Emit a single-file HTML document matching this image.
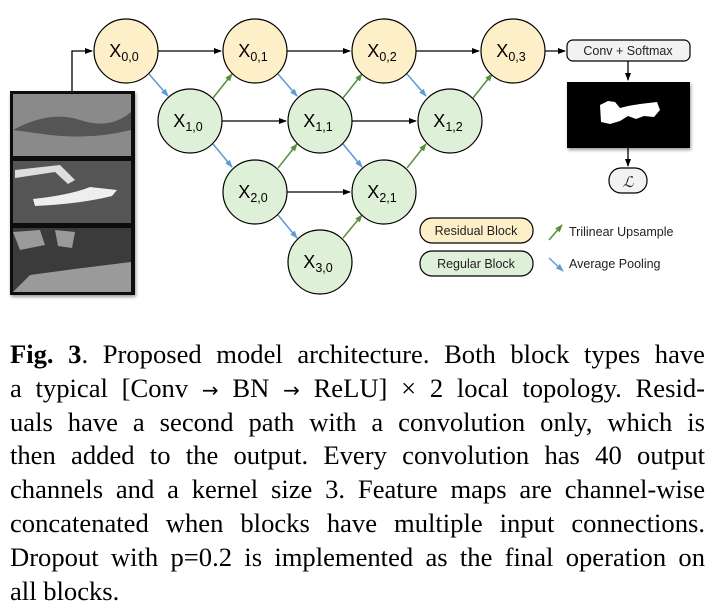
<!DOCTYPE html>
<html><head><style>
body{margin:0;width:725px;height:612px;background:#fff;overflow:hidden;position:relative}
.cap{position:absolute;left:10px;top:338px;width:695px;font-family:"Liberation Serif",serif;font-size:26.6px;line-height:33.8px;color:#000}
.cap div{text-align:justify;text-align-last:justify;white-space:nowrap;height:33.8px}
.cap div.l{text-align-last:left}
.ar{font-family:"DejaVu Sans",sans-serif;font-size:20px}
</style></head><body>
<svg width="725" height="330" style="position:absolute;left:0;top:0" font-family="Liberation Sans, sans-serif">
<defs>
<marker id="k" markerWidth="8" markerHeight="8" refX="7" refY="4" orient="auto" markerUnits="userSpaceOnUse"><path d="M0,1 L8,4 L0,7z" fill="#000"/></marker>
<marker id="g" markerWidth="8" markerHeight="8" refX="7" refY="4" orient="auto" markerUnits="userSpaceOnUse"><path d="M0,1 L8,4 L0,7z" fill="#5a8f3c"/></marker>
<marker id="b" markerWidth="8" markerHeight="8" refX="7" refY="4" orient="auto" markerUnits="userSpaceOnUse"><path d="M0,1 L8,4 L0,7z" fill="#5b9bd5"/></marker>
<filter id="sh"><feDropShadow dx="1" dy="2" stdDeviation="1.5" flood-opacity="0.4"/></filter>
</defs>
<g stroke="#000" stroke-width="1.3" fill="none" marker-end="url(#k)">
<path d="M72,91 V51 H92"/>
<path d="M158,51 H221"/><path d="M287,51 H350"/><path d="M416,51 H479"/><path d="M545,51 H565"/>
<path d="M222,121 H286"/><path d="M352,121 H416"/>
<path d="M287,192 H350"/>
<path d="M628,61 V80"/><path d="M628,148 V166"/>
</g>
<g stroke="#5b9bd5" stroke-width="1.5" marker-end="url(#b)">
<path d="M149,74 L168,96"/><path d="M278,74 L297,96"/><path d="M407,74 L426,96"/>
<path d="M213,144 L232,167"/><path d="M343,144 L362,167"/>
<path d="M278,215 L297,238"/>
<path d="M549,258 L563,271"/>
</g>
<g stroke="#5a8f3c" stroke-width="1.5" marker-end="url(#g)">
<path d="M213,98 L232,74"/><path d="M343,98 L362,74"/><path d="M473,98 L492,74"/>
<path d="M278,168 L297,144"/><path d="M407,168 L426,144"/>
<path d="M343,238 L362,215"/>
<path d="M549,240 L562,225"/>
</g>
<g stroke="#000" stroke-width="1.2">
<g fill="#fdefc8"><circle cx="126" cy="51" r="32"/><circle cx="255" cy="51" r="32"/><circle cx="384" cy="51" r="32"/><circle cx="513" cy="51" r="32"/></g>
<g fill="#dff0d8"><circle cx="190" cy="121" r="32"/><circle cx="320" cy="121" r="32"/><circle cx="450" cy="121" r="32"/><circle cx="255" cy="192" r="32"/><circle cx="384" cy="192" r="32"/><circle cx="320" cy="262" r="32"/></g>
<rect x="567" y="40" width="123" height="21" rx="6" fill="#f2f2f2"/>
<rect x="609" y="168" width="38" height="25" rx="12" fill="#f2f2f2"/>
<rect x="420" y="218" width="113" height="25" rx="12" fill="#fdefc8"/>
<rect x="420" y="251" width="113" height="25" rx="12" fill="#dff0d8"/>
</g>
<g font-size="18" text-anchor="middle" fill="#000">
<text x="124" y="57">X<tspan font-size="12.5" dy="4">0,0</tspan></text>
<text x="253" y="57">X<tspan font-size="12.5" dy="4">0,1</tspan></text>
<text x="382" y="57">X<tspan font-size="12.5" dy="4">0,2</tspan></text>
<text x="511" y="57">X<tspan font-size="12.5" dy="4">0,3</tspan></text>
<text x="188" y="127">X<tspan font-size="12.5" dy="4">1,0</tspan></text>
<text x="318" y="127">X<tspan font-size="12.5" dy="4">1,1</tspan></text>
<text x="448" y="127">X<tspan font-size="12.5" dy="4">1,2</tspan></text>
<text x="253" y="198">X<tspan font-size="12.5" dy="4">2,0</tspan></text>
<text x="382" y="198">X<tspan font-size="12.5" dy="4">2,1</tspan></text>
<text x="318" y="268">X<tspan font-size="12.5" dy="4">3,0</tspan></text>
</g>
<g font-size="12.5" fill="#222">
<text x="628" y="55" text-anchor="middle">Conv + Softmax</text>
<text x="476" y="235" text-anchor="middle">Residual Block</text>
<text x="476" y="268" text-anchor="middle">Regular Block</text>
<text x="569" y="236">Trilinear Upsample</text>
<text x="569" y="268">Average Pooling</text>
<text x="628" y="187" text-anchor="middle" font-family="Liberation Serif, serif" font-style="italic" font-size="15">ℒ</text>
</g>
<rect x="567" y="82" width="123" height="66" fill="#000" filter="url(#sh)"/>
<path d="M600,105 L608,101 L615,102 L620,108 L628,106 L640,104 L657,102 L660,110 L654,117 L644,116 L636,119 L628,116 L620,121 L610,124 L601,122 Z" fill="#fff"/>
<g filter="url(#sh)">
<rect x="10" y="91" width="125" height="204" fill="#111"/>
<rect x="13" y="94" width="118" height="62" fill="#8a8a8a"/>
<path d="M13,130 Q50,110 80,120 T131,112 V130 Q90,140 50,135 Z" fill="#555"/>
<rect x="13" y="161" width="118" height="62" fill="#555"/>
<path d="M33,199 Q70,195 90,187 L117,190 L112,196 Q80,204 35,206 Z" fill="#eee"/>
<path d="M15,170 L60,165 L75,180 L68,184 L55,172 L15,178 Z" fill="#ddd"/>
<rect x="13" y="228" width="118" height="64" fill="#3a3a3a"/>
<path d="M13,232 L40,230 L45,245 L20,250 Z M55,230 L75,232 L72,248 L58,246 Z M30,275 Q80,268 131,262 V292 H13 Z" fill="#9a9a9a"/>
</g>
</svg>
<div class="cap">
<div><b>Fig. 3</b>. Proposed model architecture. Both block types have</div>
<div>a typical [Conv <span class="ar">→</span> BN <span class="ar">→</span> ReLU] × 2 local topology. Resid-</div>
<div>uals have a second path with a convolution only, which is</div>
<div>then added to the output. Every convolution has 40 output</div>
<div>channels and a kernel size 3. Feature maps are channel-wise</div>
<div>concatenated when blocks have multiple input connections.</div>
<div>Dropout with p=0.2 is implemented as the final operation on</div>
<div class="l">all blocks.</div>
</div>
</body></html>
